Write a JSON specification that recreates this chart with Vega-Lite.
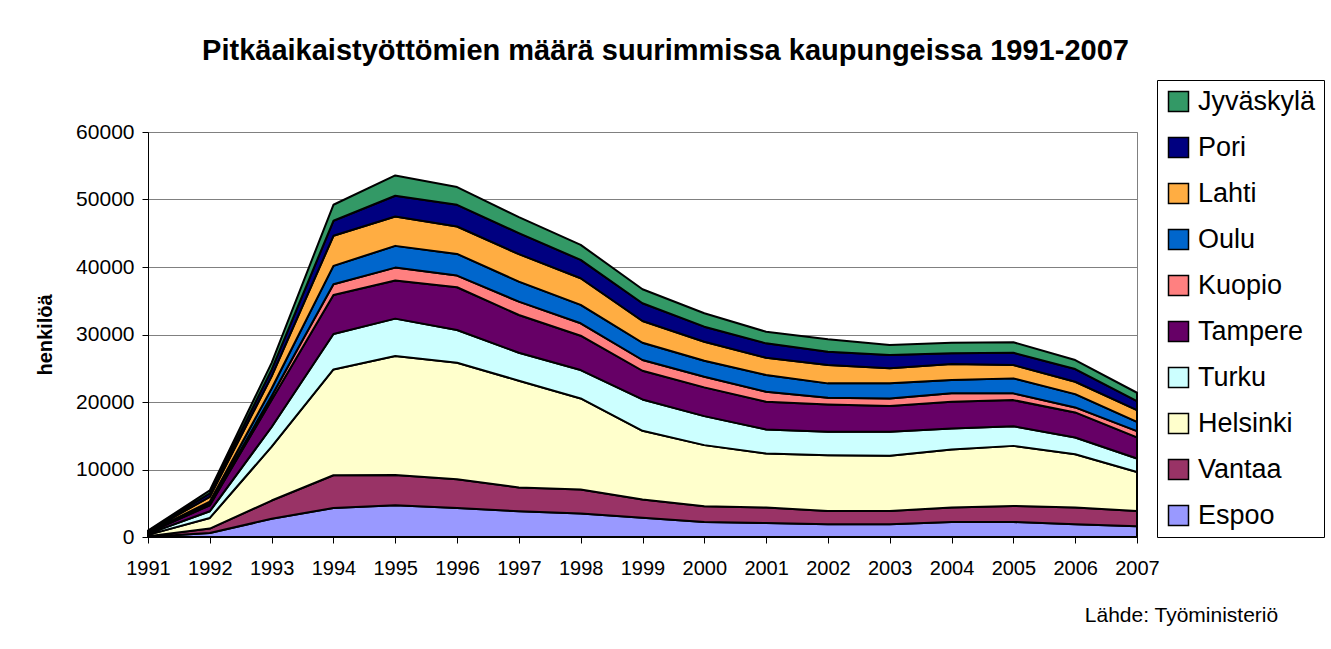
{
  "$schema": "https://vega.github.io/schema/vega-lite/v6.json",
  "width": 989,
  "height": 405,
  "autosize": {"type": "none"},
  "padding": {"left": 148, "top": 132, "right": 194, "bottom": 112},
  "background": "white",
  "title": {
    "text": "Pitkäaikaistyöttömien määrä suurimmissa kaupungeissa 1991-2007",
    "font": "Liberation Sans",
    "fontSize": 29,
    "fontWeight": "bold",
    "color": "black",
    "anchor": "middle",
    "frame": "group",
    "dx": 23,
    "offset": 14
  },
  "data": {
    "values": [
      {"vuosi": 1991, "Espoo": 50, "Vantaa": 60, "Helsinki": 200, "Turku": 150, "Tampere": 150, "Kuopio": 40, "Oulu": 50, "Lahti": 100, "Pori": 80, "Jyväskylä": 70},
      {"vuosi": 1992, "Espoo": 600, "Vantaa": 650, "Helsinki": 1570, "Turku": 990, "Tampere": 890, "Kuopio": 250, "Oulu": 300, "Lahti": 700, "Pori": 500, "Jyväskylä": 450},
      {"vuosi": 1993, "Espoo": 2700, "Vantaa": 2700, "Helsinki": 8000, "Turku": 2900, "Tampere": 4000, "Kuopio": 600, "Oulu": 1100, "Lahti": 1800, "Pori": 1000, "Jyväskylä": 1000},
      {"vuosi": 1994, "Espoo": 4300, "Vantaa": 4850, "Helsinki": 15680, "Turku": 5240, "Tampere": 5790, "Kuopio": 1590, "Oulu": 2720, "Lahti": 4450, "Pori": 2230, "Jyväskylä": 2370},
      {"vuosi": 1995, "Espoo": 4700, "Vantaa": 4500, "Helsinki": 17610, "Turku": 5540, "Tampere": 5640, "Kuopio": 1920, "Oulu": 3220, "Lahti": 4350, "Pori": 3070, "Jyväskylä": 3010},
      {"vuosi": 1996, "Espoo": 4300, "Vantaa": 4260, "Helsinki": 17260, "Turku": 4850, "Tampere": 6330, "Kuopio": 1730, "Oulu": 3210, "Lahti": 4060, "Pori": 3210, "Jyväskylä": 2630},
      {"vuosi": 1997, "Espoo": 3810, "Vantaa": 3520, "Helsinki": 15820, "Turku": 4150, "Tampere": 5590, "Kuopio": 1980, "Oulu": 2960, "Lahti": 4070, "Pori": 3110, "Jyväskylä": 2380},
      {"vuosi": 1998, "Espoo": 3470, "Vantaa": 3560, "Helsinki": 13500, "Turku": 4200, "Tampere": 5090, "Kuopio": 1840, "Oulu": 2720, "Lahti": 3960, "Pori": 2710, "Jyväskylä": 2230},
      {"vuosi": 1999, "Espoo": 2870, "Vantaa": 2670, "Helsinki": 10190, "Turku": 4650, "Tampere": 4250, "Kuopio": 1590, "Oulu": 2560, "Lahti": 3220, "Pori": 2630, "Jyväskylä": 2070},
      {"vuosi": 2000, "Espoo": 2230, "Vantaa": 2330, "Helsinki": 9050, "Turku": 4300, "Tampere": 4260, "Kuopio": 1570, "Oulu": 2370, "Lahti": 2820, "Pori": 2230, "Jyväskylä": 1990},
      {"vuosi": 2001, "Espoo": 2080, "Vantaa": 2280, "Helsinki": 8010, "Turku": 3560, "Tampere": 4100, "Kuopio": 1480, "Oulu": 2480, "Lahti": 2570, "Pori": 2130, "Jyväskylä": 1720},
      {"vuosi": 2002, "Espoo": 1880, "Vantaa": 1980, "Helsinki": 8260, "Turku": 3460, "Tampere": 4060, "Kuopio": 980, "Oulu": 2140, "Lahti": 2710, "Pori": 1980, "Jyväskylä": 1840},
      {"vuosi": 2003, "Espoo": 1880, "Vantaa": 1980, "Helsinki": 8160, "Turku": 3560, "Tampere": 3810, "Kuopio": 1140, "Oulu": 2230, "Lahti": 2230, "Pori": 1970, "Jyväskylä": 1480},
      {"vuosi": 2004, "Espoo": 2230, "Vantaa": 2130, "Helsinki": 8610, "Turku": 3110, "Tampere": 3950, "Kuopio": 1250, "Oulu": 1970, "Lahti": 2370, "Pori": 1590, "Jyväskylä": 1570},
      {"vuosi": 2005, "Espoo": 2230, "Vantaa": 2370, "Helsinki": 8900, "Turku": 2920, "Tampere": 3860, "Kuopio": 1000, "Oulu": 2220, "Lahti": 1970, "Pori": 1830, "Jyväskylä": 1540},
      {"vuosi": 2006, "Espoo": 1880, "Vantaa": 2480, "Helsinki": 7910, "Turku": 2480, "Tampere": 3710, "Kuopio": 740, "Oulu": 1970, "Lahti": 1830, "Pori": 1880, "Jyväskylä": 1340},
      {"vuosi": 2007, "Espoo": 1590, "Vantaa": 2270, "Helsinki": 5780, "Turku": 1990, "Tampere": 3120, "Kuopio": 930, "Oulu": 1380, "Lahti": 1740, "Pori": 1330, "Jyväskylä": 1240}
    ]
  },
  "transform": [
    {"fold": ["Espoo", "Vantaa", "Helsinki", "Turku", "Tampere", "Kuopio", "Oulu", "Lahti", "Pori", "Jyväskylä"], "as": ["kaupunki", "henkiloa"]},
    {"calculate": "indexof(['Espoo','Vantaa','Helsinki','Turku','Tampere','Kuopio','Oulu','Lahti','Pori','Jyväskylä'], datum.kaupunki)", "as": "jarjestys"}
  ],
  "mark": {"type": "area", "stroke": "black", "strokeWidth": 2, "strokeJoin": "round", "opacity": 1, "fillOpacity": 1},
  "encoding": {
    "x": {
      "field": "vuosi",
      "type": "quantitative",
      "scale": {"domain": [1991, 2007], "nice": false, "zero": false},
      "axis": {
        "values": [1991, 1992, 1993, 1994, 1995, 1996, 1997, 1998, 1999, 2000, 2001, 2002, 2003, 2004, 2005, 2006, 2007],
        "format": "d",
        "grid": false,
        "labelFontSize": 20,
        "labelOverlap": false,
        "labelFlush": false,
        "labelPadding": 15,
        "tickSize": 6,
        "tickColor": "black",
        "domainColor": "black",
        "title": "Lähde: Työministeriö",
        "titleFontSize": 21,
        "titleFontWeight": "normal",
        "titleX": 1033,
        "titleY": 78,
        "titleAlign": "center",
        "titleBaseline": "middle"
      }
    },
    "y": {
      "field": "henkiloa",
      "type": "quantitative",
      "stack": "zero",
      "scale": {"domain": [0, 60000], "nice": false},
      "axis": {
        "values": [0, 10000, 20000, 30000, 40000, 50000, 60000],
        "format": "d",
        "grid": true,
        "gridColor": "#808080",
        "gridWidth": 1,
        "labelFontSize": 21,
        "labelPadding": 8,
        "tickSize": 6,
        "tickColor": "black",
        "domainColor": "black",
        "title": "henkilöä",
        "titleFontSize": 20,
        "titleFontWeight": "bold",
        "titlePadding": 20
      }
    },
    "color": {
      "field": "kaupunki",
      "type": "nominal",
      "scale": {
        "domain": ["Jyväskylä", "Pori", "Lahti", "Oulu", "Kuopio", "Tampere", "Turku", "Helsinki", "Vantaa", "Espoo"],
        "range": ["#339966", "#000080", "#FFAD42", "#0066CC", "#FF8080", "#660066", "#CCFFFF", "#FFFFCC", "#993366", "#9999FF"]
      },
      "legend": {
        "orient": "none",
        "legendX": 1009,
        "legendY": -52,
        "title": null,
        "labelFontSize": 27,
        "labelFont": "Liberation Sans",
        "labelColor": "black",
        "labelLimit": 300,
        "labelOffset": 6,
        "symbolType": "square",
        "symbolSize": 400,
        "symbolStrokeColor": "black",
        "symbolStrokeWidth": 1.5,
        "symbolOpacity": 1,
        "strokeColor": "black",
        "fillColor": "white",
        "padding": 8,
        "rowPadding": 18
      }
    },
    "order": {"field": "jarjestys", "type": "quantitative", "sort": "ascending"}
  },
  "config": {
    "view": {"stroke": "#808080"},
    "axis": {"labelFont": "Liberation Sans", "titleFont": "Liberation Sans", "labelColor": "black", "titleColor": "black"}
  }
}
